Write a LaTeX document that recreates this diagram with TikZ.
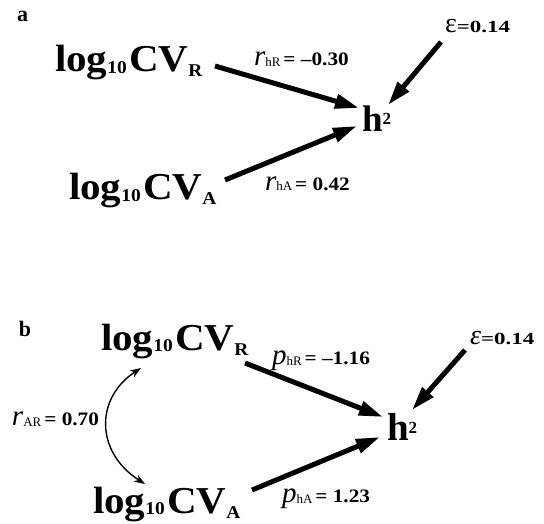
\documentclass[tikz,border=0pt]{standalone}
\usepackage{fontspec}
\setmainfont{Liberation Serif}
\usepackage{graphicx}
\usetikzlibrary{arrows.meta}
\newcommand\fs[1]{\fontsize{#1}{#1}\selectfont}
\newcommand\CVtxt[1]{\scalebox{1.08}[1]{\fs{38}\bfseries log\raisebox{-1.5pt}{\fs{18}10}\hspace{2pt}CV\raisebox{-5pt}{\fs{18}#1}}}
\newcommand\Htxt[2]{{\fs{#1}\bfseries h\raisebox{7pt}{\fs{#2}2}}}
\newcommand\Coef[3]{{\fs{29}\itshape #1}\raisebox{-1pt}{\fs{13}#2}\hspace{3pt}\scalebox{1.12}[1]{\fs{19}\bfseries = #3}}
\newcommand\Eps[1]{{\fs{28}#1}\scalebox{1.35}[1]{\fs{17}\bfseries =0.14}}
\tikzset{
  txt/.style={anchor=base west, inner sep=0pt, outer sep=0pt},
  panel/.style={txt, font=\fs{22}\bfseries},
  bigarrow/.style={line width=5pt, -{Triangle[length=24pt,width=14pt]}},
  corr/.style={line width=1.4pt, {Stealth[length=11pt,width=8pt]}-{Stealth[length=11pt,width=8pt]}}
}
\begin{document}
\begin{tikzpicture}[x=1pt,y=-1pt]
\useasboundingbox (0,0) rectangle (544,524);
% panel a
\node[panel] (pa) at (17,22) {a};
\node[txt] (cvRa) at (55,72) {\CVtxt{R}};
\node[txt] (cvAa) at (69,200) {\CVtxt{A}};
\node[txt] (ha) at (362,132) {\Htxt{37}{17}};
\node[txt] (epsa) at (445,33) {\Eps{ε}};
\node[txt] (rhR) at (254,66) {\Coef{r}{hR}{–0.30}};
\node[txt] (rhA) at (265,190) {\Coef{r}{hA}{0.42}};
\coordinate (aRs) at (215,66);
\coordinate (aRe) at (359,108);
\coordinate (aAs) at (225,180);
\coordinate (aAe) at (357,126);
\coordinate (aEs) at (441,42);
\coordinate (aEe) at (388,105);
\draw[bigarrow] (aRs) -- (aRe);
\draw[bigarrow] (aAs) -- (aAe);
\draw[bigarrow] (aEs) -- (aEe);
% panel b
\node[panel] (pb) at (19,336) {b};
\node[txt] (cvRb) at (101,350) {\CVtxt{R}};
\node[txt] (cvAb) at (93,513) {\CVtxt{A}};
\node[txt] (hb) at (387,440) {\Htxt{39}{17}};
\node[txt] (epsb) at (470,344) {\Eps{\itshape ε}};
\node[txt] (phR) at (272,364) {\Coef{p}{hR}{–1.16}};
\node[txt] (phA) at (282,502) {\Coef{p}{hA}{1.23}};
\node[txt] (rAR) at (12,425) {\Coef{r}{AR}{0.70}};
\coordinate (bRs) at (245,363);
\coordinate (bRe) at (383,417);
\coordinate (bAs) at (252,490);
\coordinate (bAe) at (380,437);
\coordinate (bEs) at (465,350);
\coordinate (bEe) at (412,410);
\coordinate (cTop) at (141,368);
\coordinate (cBot) at (145,484);
\draw[bigarrow] (bRs) -- (bRe);
\draw[bigarrow] (bAs) -- (bAe);
\draw[bigarrow] (bEs) -- (bEe);
\draw[corr] (cTop) .. controls (95,398) and (95,452) .. (cBot);
\end{tikzpicture}
\end{document}
